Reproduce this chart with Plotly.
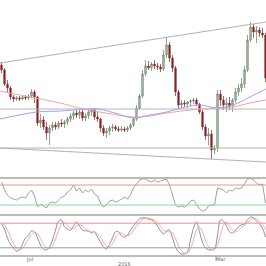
import plotly.graph_objects as go

# ---------------- data ----------------
bar_x = [1.5, 4.5, 7.5, 10.5, 13.5, 16.5, 19.5, 22.5, 25.5, 28.5,
         31.5, 34.5, 37.5, 40.5, 43.5, 46.5, 49.5, 52.5, 55.5, 58.5,
         61.5, 64.5, 67.5, 70.5, 73.5, 76.5, 79.5, 82.5, 85.5, 88.5,
         91.5, 94.5, 97.5, 100.5, 103.5, 106.5, 109.5, 112.5, 115.5, 118.5,
         121.5, 124.5, 127.5, 130.5, 133.5, 136.5, 139.5, 142.5, 145.5, 148.5,
         151.5, 154.5, 157.5, 160.5, 163.5, 166.5, 169.5, 172.5, 175.5, 178.5,
         181.5, 184.5, 187.5, 190.5, 193.5, 196.5, 199.5, 202.5, 205.5, 208.5,
         211.5, 214.5, 217.5, 220.5, 223.5, 226.5, 229.5, 232.5, 235.5, 238.5,
         241.5, 244.5, 247.5, 250.5, 253.5, 256.5, 259.5, 262.5, 265.5]

opens = [113, 108, 94, 90, 81, 79, 80, 79, 81, 80,
         82, 86, 81, 55, 58, 51, 45, 50, 53, 51,
         55, 54, 56, 59, 62, 65, 63, 66, 60, 62,
         66, 68, 61, 59, 50, 45, 47, 50, 51, 49,
         48, 49, 48, 50, 53, 59, 70, 82, 104, 112,
         110, 114, 112, 111, 109, 123, 133, 120, 110, 86,
         73, 75, 74, 76, 77, 78, 74, 66, 51, 42,
         44, 28, 30, 84, 78, 73, 75, 72, 78, 86,
         90, 94, 108, 138, 151, 146, 148, 145, 143]
highs = [116, 110, 98, 92, 83, 82, 82, 83, 83, 84,
         89, 88, 82, 64, 62, 56, 53, 56, 56, 57,
         59, 58, 61, 65, 67, 69, 68, 68, 65, 69,
         70, 70, 66, 60, 53, 50, 52, 54, 53, 52,
         52, 51, 52, 55, 61, 73, 84, 108, 118, 117,
         116, 118, 115, 114, 128, 141, 136, 123, 112, 88,
         78, 78, 77, 79, 80, 80, 75, 68, 54, 50,
         48, 33, 88, 88, 82, 80, 81, 80, 90, 94,
         100, 112, 143, 156, 154, 152, 151, 150, 145]
lows = [105, 92, 86, 78, 76, 77, 77, 78, 78, 78,
        80, 75, 52, 50, 48, 38, 33, 47, 48, 49,
        51, 50, 53, 56, 58, 60, 59, 57, 57, 59,
        62, 58, 56, 46, 42, 40, 43, 46, 47, 46,
        46, 46, 46, 48, 51, 57, 68, 80, 102, 108,
        107, 109, 108, 106, 107, 120, 116, 106, 82, 70,
        70, 71, 70, 72, 74, 72, 64, 48, 38, 33,
        19, 24, 26, 72, 68, 66, 68, 66, 75, 82,
        86, 90, 106, 136, 140, 135, 141, 140, 96]
closes = [108, 94, 90, 81, 79, 80, 79, 81, 80, 82,
          86, 81, 55, 58, 51, 45, 50, 53, 51, 55,
          54, 56, 59, 62, 65, 63, 66, 60, 62, 66,
          68, 61, 59, 50, 45, 47, 50, 51, 49, 48,
          49, 48, 50, 53, 59, 70, 82, 104, 112, 110,
          114, 112, 111, 109, 123, 133, 120, 110, 86, 73,
          75, 74, 76, 77, 78, 74, 66, 51, 42, 44,
          28, 30, 84, 78, 73, 75, 72, 78, 86, 90,
          94, 108, 138, 151, 146, 148, 145, 143, 100]

# moving averages (sampled)
ma_red_x = [0, 30, 60, 83, 100, 133, 150, 167, 200, 217, 233, 250, 266]
ma_red_y = [87, 81, 75, 69, 66, 61, 62, 65, 69, 70, 71, 75, 78]
ma_blue_x = [0, 37, 60, 97, 115, 133, 150, 167, 185, 200, 217, 233, 250, 266]
ma_blue_y = [59, 66, 67, 69, 65, 60, 63, 66, 71, 73, 70, 73, 81, 89]

# trend / support lines
upper_trend_x = [0, 266]
upper_trend_y = [115, 156]
flat_mid_y = 69
flat_low_y = 30
lower_trend_x = [0, 266]
lower_trend_y = [30, 16]

# RSI
rsi = [76, 60, 50, 44, 42, 40, 44, 46, 44, 54,
       60, 48, 26, 32, 28, 24, 34, 36, 34, 40,
       46, 48, 56, 60, 70, 58, 64, 54, 60, 56,
       62, 52, 48, 34, 26, 30, 38, 40, 36, 38,
       42, 46, 42, 50, 64, 72, 80, 82, 82, 78,
       76, 80, 76, 78, 80, 82, 70, 48, 30, 26,
       28, 26, 30, 38, 40, 32, 22, 18, 20, 28,
       30, 30, 64, 62, 60, 54, 60, 58, 64, 62,
       64, 72, 82, 83, 80, 74, 70, 72, 34]
rsi_levels = [70, 30]

# Stochastic
stoch_k = [78, 66, 44, 29, 20, 12, 15, 29, 44, 51,
           61, 59, 44, 27, 17, 15, 22, 39, 63, 85,
           88, 71, 66, 63, 73, 83, 73, 63, 61, 61,
           56, 59, 46, 34, 22, 17, 29, 44, 59, 59,
           49, 46, 51, 63, 73, 83, 90, 93, 93, 90,
           88, 83, 73, 61, 54, 61, 63, 44, 22, 10,
           5, 5, 10, 39, 68, 83, 59, 34, 20, 15,
           15, 17, 51, 88, 85, 73, 59, 56, 63, 71,
           76, 78, 88, 95, 93, 85, 78, 68, 46]
stoch_d = [82, 75, 63, 46, 31, 20, 16, 19, 29, 41,
           52, 57, 55, 43, 29, 20, 18, 25, 41, 62,
           79, 81, 75, 67, 67, 73, 76, 73, 66, 62,
           59, 59, 54, 46, 34, 24, 23, 30, 44, 54,
           56, 51, 49, 53, 62, 73, 82, 89, 92, 92,
           90, 87, 81, 72, 63, 59, 59, 56, 43, 25,
           12, 7, 7, 18, 39, 63, 70, 59, 38, 23,
           17, 16, 28, 52, 75, 82, 72, 63, 59, 63,
           70, 75, 81, 87, 92, 91, 85, 77, 64]
stoch_levels = [80, 20]

tick_labels = ["Jul", "2016", "Mar"]
tick_pos = [29, 124.5, 221]

# ---------------- figure ----------------
H = 266
B = 10
plot_h = H - B
price_dom = [(plot_h - 178) / plot_h, 1]
rsi_dom = [(plot_h - 215) / plot_h, (plot_h - 178) / plot_h]
st_dom = [0, (plot_h - 215) / plot_h]

fig = go.Figure()

line_gray = "#a8a8a8"
fig.add_trace(go.Scatter(x=upper_trend_x, y=upper_trend_y, mode="lines",
                         line=dict(color=line_gray, width=0.9), yaxis="y"))
fig.add_trace(go.Scatter(x=lower_trend_x, y=lower_trend_y, mode="lines",
                         line=dict(color=line_gray, width=0.9), yaxis="y"))
fig.add_trace(go.Scatter(x=[0, 266], y=[flat_mid_y, flat_mid_y], mode="lines",
                         line=dict(color="#b4b4b4", width=1), yaxis="y"))
fig.add_trace(go.Scatter(x=[0, 266], y=[flat_low_y, flat_low_y], mode="lines",
                         line=dict(color="#b4b4b4", width=1), yaxis="y"))
fig.add_trace(go.Scatter(x=ma_red_x, y=ma_red_y, mode="lines",
                         line=dict(color="#f4a4a4", width=1, shape="spline"), yaxis="y"))
fig.add_trace(go.Scatter(x=ma_blue_x, y=ma_blue_y, mode="lines",
                         line=dict(color="#a0a0f4", width=1, shape="spline"), yaxis="y"))
fig.add_trace(go.Candlestick(
    x=bar_x, open=opens, high=highs, low=lows, close=closes, yaxis="y",
    increasing=dict(line=dict(color="#5f805f", width=0.7), fillcolor="#b9c6b9"),
    decreasing=dict(line=dict(color="#8a2a2a", width=0.7), fillcolor="#8a2222"),
    whiskerwidth=0, hoverinfo="skip"))

fig.add_trace(go.Scatter(x=bar_x, y=rsi, mode="lines",
                         line=dict(color="#959595", width=0.9), yaxis="y2"))
fig.add_trace(go.Scatter(x=bar_x, y=stoch_k, mode="lines",
                         line=dict(color="#858585", width=0.9, shape="spline"), yaxis="y3"))
fig.add_trace(go.Scatter(x=bar_x, y=stoch_d, mode="lines",
                         line=dict(color="#f4a0a0", width=0.9, shape="spline"), yaxis="y3"))

shapes = []
# RSI level lines
shapes.append(dict(type="line", xref="paper", x0=0, x1=1, yref="y2",
                   y0=rsi_levels[0], y1=rsi_levels[0], line=dict(color="#f29090", width=1)))
shapes.append(dict(type="line", xref="paper", x0=0, x1=1, yref="y2",
                   y0=rsi_levels[1], y1=rsi_levels[1], line=dict(color="#98d498", width=1.2)))
# Stoch level lines
shapes.append(dict(type="line", xref="paper", x0=0, x1=1, yref="y3",
                   y0=stoch_levels[0], y1=stoch_levels[0], line=dict(color="#f29090", width=1)))
shapes.append(dict(type="line", xref="paper", x0=0, x1=1, yref="y3",
                   y0=stoch_levels[1], y1=stoch_levels[1], line=dict(color="#9c9c9c", width=1)))
# panel borders
for yb in [rsi_dom[1], st_dom[1], 0]:
    shapes.append(dict(type="line", xref="paper", x0=0, x1=1, yref="paper",
                       y0=yb, y1=yb, line=dict(color="#a4a4a4", width=1.3)))
# tick mark near "Mar"
shapes.append(dict(type="line", xref="x", x0=216, x1=216, yref="paper",
                   y0=0, y1=-5 / plot_h, line=dict(color="#a0a0a0", width=1)))

annotations = []
label_dy = [3, 7.5, 3]
for t, xp, dy in zip(tick_labels, tick_pos, label_dy):
    annotations.append(dict(text=t, x=xp, xref="x", y=-dy / plot_h, yref="paper",
                            showarrow=False, font=dict(size=5, color="#666666",
                                                         family="DejaVu Sans"),
                            xanchor="center", yanchor="middle"))

fig.update_layout(
    width=266, height=266,
    margin=dict(l=0, r=0, t=0, b=B),
    paper_bgcolor="white", plot_bgcolor="white",
    showlegend=False,
    xaxis=dict(range=[0, 266], visible=False, rangeslider=dict(visible=False),
               anchor="y3"),
    yaxis=dict(domain=price_dom, range=[0, 178], visible=False),
    yaxis2=dict(domain=rsi_dom, range=[10, 84], visible=False),
    yaxis3=dict(domain=st_dom, range=[0, 100], visible=False),
    shapes=shapes,
    annotations=annotations,
)

fig.write_html("out.html")
